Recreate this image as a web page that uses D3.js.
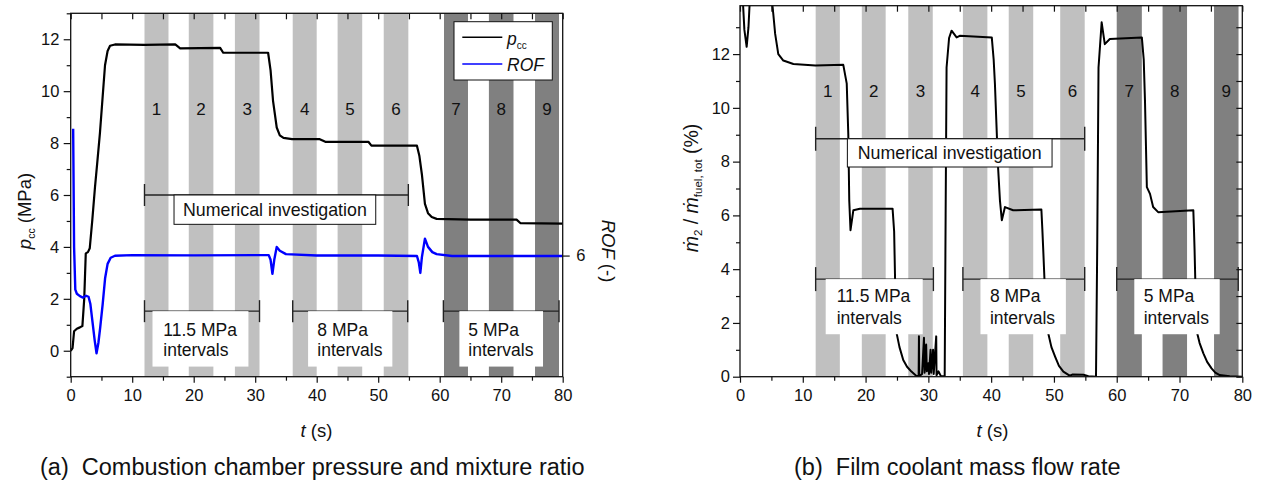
<!DOCTYPE html>
<html><head><meta charset="utf-8">
<script src="https://cdn.jsdelivr.net/npm/d3@7"></script>
<style>
body{margin:0;background:#fff}
svg{display:block}
text{font-family:"Liberation Sans",Arial,Helvetica,sans-serif;fill:#111}
</style>
</head><body>
<svg id="c" width="1262" height="487"></svg>
<script>
// ---------------- DATA ----------------
const xTicks = [0,10,20,30,40,50,60,70,80];
const yTicksA = [0,2,4,6,8,10,12];
const yTicksB = [0,2,4,6,8,10,12];
const rofTicks = [6];
const stripeLabels = ["1","2","3","4","5","6","7","8","9"];
const stripeShade = ["light","light","light","light","light","light","dark","dark","dark"];
const stripeStartA = [12,19.2,26.7,36.1,43.4,50.9,60.7,68,75.5];
const stripeEndA   = [15.9,23.2,30.7,40,47.4,54.9,64.6,72,79.4];
const stripeStartB = [12.05,19.4,26.8,35.5,42.8,51,60,67.3,75.5];
const stripeEndB   = [15.9,23.2,30.7,39.4,46.7,54.9,64,71.2,79.4];

// combustion chamber pressure p_cc (MPa)
const pccT = [0,0.3,0.55,1.0,1.5,1.9,2.2,2.45,2.8,3.1,3.5,3.95,4.3,4.76,5.2,5.58,6.0,6.4,7.2,12,17,17.8,24.3,24.8,32.1,32.5,32.9,33.5,34.0,34.6,36,40.5,41.4,48.4,48.9,56.3,56.7,57.1,57.6,58.1,58.7,59.5,65,72.5,73.1,80];
const pccV = [0,0.1,0.75,0.85,0.9,0.95,2.0,3.75,3.8,3.95,5.0,6.3,7.2,8.4,9.8,11.0,11.55,11.75,11.8,11.78,11.8,11.65,11.67,11.48,11.48,10.8,9.63,8.6,8.3,8.2,8.15,8.15,8.05,8.05,7.9,7.9,7.5,6.8,5.66,5.3,5.15,5.08,5.05,5.05,4.92,4.9];
// mixture ratio ROF (-)
const rofT = [0.4,0.55,0.75,1.0,1.5,2.0,2.5,2.9,3.2,3.5,3.9,4.2,4.5,4.8,5.2,5.6,6.0,6.5,7.2,10,20,30,32.2,32.5,32.8,33.1,33.5,34,35,40,50,56.3,56.6,56.85,57.1,57.6,58.1,58.8,59.5,62,80];
const rofV = [12.28,6.43,4.31,4.11,3.99,3.92,4.01,3.96,3.6,2.83,1.8,1.16,1.67,2.44,3.6,4.89,5.59,5.89,5.99,6.02,6.01,6.02,6.02,5.79,5.1,5.79,6.43,6.24,6.07,6.0,6.0,5.98,5.66,5.14,5.91,6.84,6.43,6.17,6.07,5.98,5.98];
// film coolant mass flow ratio (%)
const m2T = [0,0.45,0.7,1.06,1.35,1.6,2,5.0,5.3,5.6,6.1,6.9,8.5,12,16.45,17.0,17.25,17.4,17.6,18.05,19.1,24.3,24.55,24.75,24.95,25.4,26.0,26.6,27.3,28.1,28.45,28.5,28.55,29.0,29.3,29.4,29.65,29.75,30.0,30.1,30.35,30.45,30.75,30.85,31.25,31.3,31.6,32.0,32.6,32.75,32.9,33.3,33.7,34.5,35.0,40.1,40.4,40.6,41.1,41.4,41.7,42.2,43.5,48.0,48.15,48.3,48.6,49.1,49.6,50.2,50.8,51.5,52.5,53.0,54.7,55.5,56.7,56.9,57.1,57.6,58.1,58.9,64.0,64.3,64.5,64.8,65.3,65.8,66.6,72.2,72.3,72.4,72.7,73.2,73.8,74.4,75.1,75.7,76.4,78,80];
const m2V = [14.5,14.0,12.9,12.27,13.0,14.2,14.5,14.2,13.5,12.75,12.0,11.76,11.63,11.58,11.6,10.9,9.0,6.56,5.45,6.19,6.25,6.25,5.4,3.0,1.61,1.1,0.62,0.37,0.19,0.03,0.03,1.5,0.02,0.1,1.45,0.15,1.2,0.2,0.5,0.1,1.0,0.15,1.0,0.1,1.5,0.05,0.2,0.02,0.02,6,11.5,12.6,12.87,12.62,12.68,12.62,11.8,10.9,7.8,6.56,5.82,6.31,6.19,6.22,5.5,4.7,3.0,1.61,1.1,0.74,0.4,0.19,0.04,0.08,0.07,0.02,0.0,5,11.5,13.18,12.37,12.56,12.62,11.8,10.27,7.05,6.8,6.31,6.12,6.19,5.5,4.7,1.73,1.25,0.87,0.55,0.31,0.15,0.06,0.02,0.0];

// annotations (data units): [lineStart, lineEnd, lineValue, boxStart, boxEnd, boxBottomValue, textStart]
const annTextLines = [["Numerical investigation"],["11.5 MPa","intervals"],["8 MPa","intervals"],["5 MPa","intervals"]];
const annA = [[12,54.9,6.0,16.8,49.6,4.87,null],[12,30.7,1.525,13.3,28.9,-0.61,15.06],[36.1,54.8,1.525,38.6,52.3,-0.61,40.1],[60.6,79.4,1.525,63.2,76.8,-0.61,64.65]];
const annB = [[12.05,54.9,8.85,17.1,49.7,7.8,null],[12.05,30.8,3.63,13.65,29.1,1.58,15.4],[35.5,54.9,3.63,38.3,51.9,1.58,39.8],[60.0,79.35,3.63,62.8,76.4,1.58,64.3]];

// ---------------- DRAWING ----------------
const svg = d3.select("#c");
const shadeColor = {light:"#c0c0c0", dark:"#808080"};
const TICKFS = "16.5px";

function panel(cfg){
  const g = svg.append("g");
  const x = cfg.x, y = cfg.y;
  const [X0,X1] = x.range(), [Y1,Y0] = y.range();
  const clipId = "clip"+cfg.id;
  svg.append("clipPath").attr("id",clipId).append("rect")
    .attr("x",X0).attr("y",Y0).attr("width",X1-X0).attr("height",Y1-Y0);

  // stripes
  g.append("g").selectAll("rect").data(cfg.sStart).join("rect")
    .attr("x",(d)=>x(d)).attr("y",Y0)
    .attr("width",(d,i)=>x(cfg.sEnd[i])-x(d)).attr("height",Y1-Y0)
    .attr("fill",(d,i)=>shadeColor[stripeShade[i]]);
  // stripe labels
  g.append("g").selectAll("text").data(stripeLabels).join("text")
    .attr("x",(d,i)=>(x(cfg.sStart[i])+x(cfg.sEnd[i]))/2)
    .attr("y",cfg.labelY).attr("text-anchor","middle")
    .style("font-size","17px").text(d=>d);

  // data lines
  const dg = g.append("g").attr("clip-path",`url(#${clipId})`);
  cfg.series.forEach(s=>{
    const line = d3.line().x(d=>x(d[0])).y(d=>s.scale(d[1]));
    dg.append("path").datum(s.t.map((t,i)=>[t,s.v[i]]))
      .attr("d",line).attr("fill","none").attr("stroke",s.color)
      .attr("stroke-width",s.w).attr("stroke-linejoin","round");
  });

  // annotations
  const ag = g.append("g");
  cfg.ann.forEach((a,k)=>{
    const [l0,l1,lv,b0,b1,bv,tx] = a;
    const ly = y(lv);
    ag.append("line").attr("x1",x(l0)).attr("x2",x(l1)).attr("y1",ly).attr("y2",ly)
      .attr("stroke","#222").attr("stroke-width",1.4);
    [l0,l1].forEach(v=>ag.append("line").attr("x1",x(v)).attr("x2",x(v))
      .attr("y1",ly-cfg.cap).attr("y2",ly+cfg.cap).attr("stroke","#222").attr("stroke-width",1.4));
    const rect = ag.append("rect").attr("x",x(b0)).attr("y",ly)
      .attr("width",x(b1)-x(b0)).attr("height",y(bv)-ly).attr("fill","#fff");
    if(k===0){
      rect.attr("stroke","#111").attr("stroke-width",1);
      ag.append("text").attr("x",(x(b0)+x(b1))/2).attr("y",ly+cfg.numDy)
        .attr("text-anchor","middle").style("font-size","17.8px").text(annTextLines[0][0]);
    } else {
      annTextLines[k].forEach((s,j)=>ag.append("text").attr("x",x(tx))
        .attr("y",ly+cfg.intDy+j*cfg.lineGap).style("font-size","17.5px").text(s));
    }
  });

  // axes
  const ax = g.append("g");
  const fmt = d3.format("d");
  ax.append("g").attr("transform",`translate(0,${Y1})`)
    .call(d3.axisBottom(x).tickValues(xTicks).tickSize(6).tickPadding(7).tickFormat(fmt));
  ax.append("g").attr("transform",`translate(0,${Y1})`)
    .call(d3.axisBottom(x).tickValues(xTicks.slice(0,-1).map(v=>v+5)).tickSize(4).tickFormat(""));
  ax.append("g").attr("transform",`translate(${X0},0)`)
    .call(d3.axisLeft(y).tickValues(cfg.yTicks).tickSize(7).tickPadding(cfg.yPad).tickFormat(fmt));
  ax.append("g").attr("transform",`translate(${X0},0)`)
    .call(d3.axisLeft(y).tickValues(cfg.yMinor).tickSize(4).tickFormat(""));
  // top inward ticks
  ax.append("g").attr("transform",`translate(0,${Y0})`)
    .call(d3.axisBottom(x).tickValues(d3.range(0,81,5)).tickSize(6).tickFormat(""));
  if(cfg.rightInward){
    ax.append("g").attr("transform",`translate(${X1},0)`)
      .call(d3.axisLeft(y).tickValues(d3.range(0,14,1)).tickSize(6).tickFormat(""));
  }
  if(cfg.rof){
    ax.append("g").attr("transform",`translate(${X1},0)`)
      .call(d3.axisRight(cfg.rof).tickValues(rofTicks).tickSize(7).tickPadding(6.5).tickFormat(fmt));
  }
  ax.selectAll(".domain").remove();
  ax.selectAll(".tick line").attr("stroke","#111").attr("stroke-width",1.2);
  ax.selectAll(".tick text").style("font-size",TICKFS).attr("fill","#111")
    .style("font-family",'"Liberation Sans",Arial,Helvetica,sans-serif');
  ax.append("rect").attr("x",X0).attr("y",Y0).attr("width",X1-X0).attr("height",Y1-Y0)
    .attr("fill","none").attr("stroke","#111").attr("stroke-width",1.3);
  return g;
}

// Panel A
const xA = d3.scaleLinear([0,80],[70.7,562.7]);
const yA = d3.scaleLinear([-1,13],[376.7,13.3]);
const rofA = d3.scaleLinear([0,18],[376.7,13.3]);
panel({id:"A",x:xA,y:yA,sStart:stripeStartA,sEnd:stripeEndA,labelY:115,
  yTicks:yTicksA,yMinor:[-1,1,3,5,7,9,11,13],yPad:4.4,rof:rofA,rightInward:false,
  series:[{t:pccT,v:pccV,scale:yA,color:"#000",w:2.2},{t:rofT,v:rofV,scale:rofA,color:"#0000ff",w:2.4}],
  ann:annA,cap:11,numDy:21,intDy:25,lineGap:20});

// Panel B
const xB = d3.scaleLinear([0,80],[740,1242.3]);
const yB = d3.scaleLinear([0,13.8],[376.7,5.7]);
panel({id:"B",x:xB,y:yB,sStart:stripeStartB,sEnd:stripeEndB,labelY:97,
  yTicks:yTicksB,yMinor:[1,3,5,7,9,11,13],yPad:3,rof:null,rightInward:true,
  series:[{t:m2T,v:m2V,scale:yB,color:"#000",w:2}],
  ann:annB,cap:12,numDy:20,intDy:23,lineGap:21.5});

// Legend (panel A)
const lg = svg.append("g");
lg.append("rect").attr("x",454).attr("y",21.7).attr("width",98.3).attr("height",58.3)
  .attr("fill","#fff").attr("stroke","#111").attr("stroke-width",1);
lg.append("line").attr("x1",462.3).attr("x2",502.3).attr("y1",37.3).attr("y2",37.3).attr("stroke","#000").attr("stroke-width",1.6);
lg.append("line").attr("x1",462.3).attr("x2",502.3).attr("y1",64).attr("y2",64).attr("stroke","#0000ff").attr("stroke-width",1.6);
const lt1 = lg.append("text").attr("x",507).attr("y",45).style("font-size","17.5px");
lt1.append("tspan").style("font-style","italic").text("p");
lt1.append("tspan").attr("dy",4).style("font-size","10px").text("cc");
lg.append("text").attr("x",507).attr("y",70.5).style("font-size","17.5px").style("font-style","italic").text("ROF");

// Axis titles
function tTitle(cx){
  const t = svg.append("text").attr("x",cx).attr("y",436.5).attr("text-anchor","middle").style("font-size","18.5px");
  t.append("tspan").style("font-style","italic").text("t");
  t.append("tspan").text(" (s)");
}
tTitle(316.5); tTitle(992.5);

const yl = svg.append("text").attr("transform","translate(31,211) rotate(-90)")
  .attr("text-anchor","middle").style("font-size","18.5px");
yl.append("tspan").style("font-style","italic").text("p");
yl.append("tspan").attr("dy",4).style("font-size","10.5px").text("cc");
yl.append("tspan").attr("dy",-4).text(" (MPa)");

const rl = svg.append("text").attr("transform","translate(602,251) rotate(90)")
  .attr("text-anchor","middle").style("font-size","18.5px");
rl.append("tspan").style("font-style","italic").text("ROF");
rl.append("tspan").text(" (-)");

const ml = svg.append("text").attr("transform","translate(698,188) rotate(-90)")
  .attr("text-anchor","middle").style("font-size","19.5px");
ml.append("tspan").style("font-style","italic").text("\u1E41");
ml.append("tspan").attr("dy",4).style("font-size","11.5px").text("2");
ml.append("tspan").attr("dy",-4).text(" / ");
ml.append("tspan").style("font-style","italic").text("\u1E41");
ml.append("tspan").attr("dy",4).style("font-size","11.5px").text("fuel, tot");
ml.append("tspan").attr("dy",-4).text(" (%)");

// Captions
svg.append("text").attr("x",40).attr("y",475).style("font-size","23.5px")
  .text("(a)\u00A0\u00A0Combustion chamber pressure and mixture ratio");
svg.append("text").attr("x",794).attr("y",475).style("font-size","23.5px")
  .text("(b)\u00A0\u00A0Film coolant mass flow rate");
</script>
</body></html>
